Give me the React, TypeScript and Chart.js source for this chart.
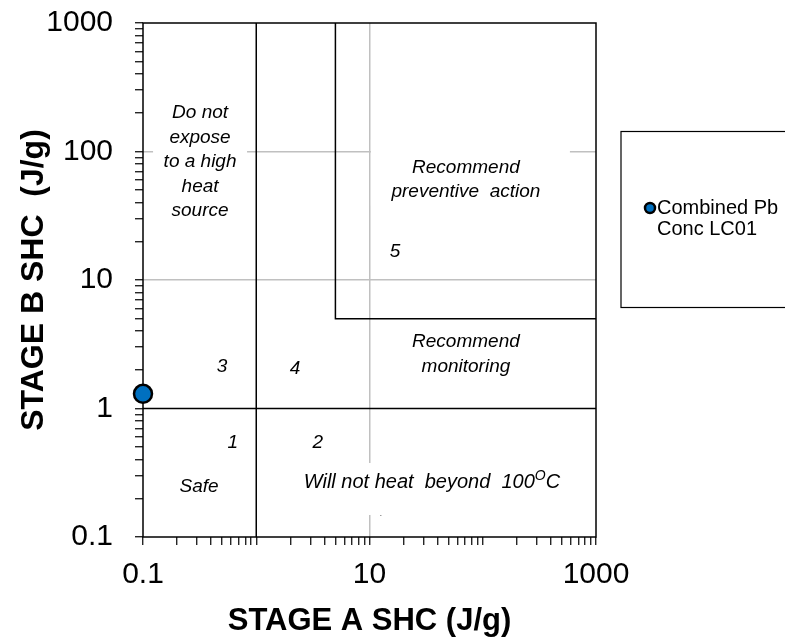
import { useEffect, useRef } from 'react';
import { Chart, registerables } from 'chart.js';

Chart.register(...registerables);

// ---- axis structure ----
const decades = [0.1, 1, 10, 100];
const minorMultipliers = [1, 2, 3, 4, 5, 6, 7, 8, 9];
const xLabelValues = [0.1, 10, 1000];
const yLabelValues = [0.1, 1, 10, 100, 1000];
const xGridValues = [10];
const yGridValues = [10, 100];
const xTitle = 'STAGE A SHC (J/g)';
const yTitle = 'STAGE B SHC  (J/g)';

// ---- data ----
const seriesLabelLines = ['Combined Pb', 'Conc LC01'];
const sampleX = [0.1];
const sampleY = [1.3];

// zone boundary lines
const boundaryAX = [1, 1];
const boundaryAY = [0.1, 1000];
const boundaryBX = [0.1, 1000];
const boundaryBY = [1, 1];
const boundaryCX = [5, 5, 1000];
const boundaryCY = [1000, 5, 5];

// zone annotations (data coordinates of first line centre)
const noteTexts = [
  ['Do not', 'expose', 'to a high', 'heat', 'source'],
  ['Recommend', 'preventive  action'],
  ['5'],
  ['Recommend', 'monitoring'],
  ['3'],
  ['4'],
  ['1'],
  ['2'],
  ['Safe'],
];
const noteX = [0.319, 71, 16.8, 71, 0.5, 2.2, 0.62, 3.5, 0.313];
const noteY = [199, 75, 16.5, 3.29, 2.1, 2.03, 0.54, 0.54, 0.245];

const heatNoteX = 35.6;
const heatNoteY = 0.268;
const heatNoteMain = 'Will not heat  beyond  100';
const heatNoteSup = 'O';
const heatNoteEnd = 'C';

const tinyDotX = 12.6;
const tinyDotY = 0.152;

const FONT = '"Liberation Sans", Arial, sans-serif';

const tickValues = [...decades.flatMap((d) => minorMultipliers.map((m) => +(d * m).toPrecision(6))), 1000];
const inList = (v: number, list: number[]) => list.some((l) => Math.abs(Math.log10(v) - Math.log10(l)) < 1e-6);

// white backing boxes for some annotations (pixel offsets from the anchor)
const boxes = [
  { note: 0, dx: -47, dy: -13, w: 94, h: 122 },
  { note: 1, dx: -95, dy: -28, w: 199, h: 66 },
];

const zonePlugin = {
  id: 'zones',
  beforeDatasetsDraw(chart: any) {
    const { ctx, chartArea, scales } = chart;
    const xs = scales.x;
    const ys = scales.y;
    ctx.save();
    ctx.fillStyle = '#ffffff';
    boxes.forEach((b) => {
      const px = xs.getPixelForValue(noteX[b.note]);
      const py = ys.getPixelForValue(noteY[b.note]);
      ctx.fillRect(px + b.dx, py + b.dy, b.w, b.h);
    });
    const hx = xs.getPixelForValue(heatNoteX);
    const hy = ys.getPixelForValue(heatNoteY);
    ctx.fillRect(hx - 133, hy - 19, 266, 52);

    // frame
    ctx.strokeStyle = '#000';
    ctx.lineWidth = 1.5;
    ctx.strokeRect(chartArea.left, chartArea.top, chartArea.right - chartArea.left, chartArea.bottom - chartArea.top);

    // annotations
    ctx.fillStyle = '#000';
    ctx.font = `italic 19px ${FONT}`;
    ctx.textAlign = 'center';
    ctx.textBaseline = 'middle';
    noteTexts.forEach((lines, i) => {
      const px = xs.getPixelForValue(noteX[i]);
      const py = ys.getPixelForValue(noteY[i]);
      lines.forEach((ln, j) => ctx.fillText(ln, px, py + j * 24.5));
    });

    // heat note with superscript
    ctx.textAlign = 'left';
    ctx.font = `italic 20px ${FONT}`;
    const w1 = ctx.measureText(heatNoteMain).width;
    const w3 = ctx.measureText(heatNoteEnd).width;
    ctx.font = `italic 14px ${FONT}`;
    const w2 = ctx.measureText(heatNoteSup).width;
    let sx = hx - (w1 + w2 + w3) / 2;
    ctx.font = `italic 20px ${FONT}`;
    ctx.fillText(heatNoteMain, sx, hy);
    sx += w1;
    ctx.font = `italic 14px ${FONT}`;
    ctx.fillText(heatNoteSup, sx, hy - 6);
    sx += w2;
    ctx.font = `italic 20px ${FONT}`;
    ctx.fillText(heatNoteEnd, sx, hy);

    ctx.font = `8px ${FONT}`;
    ctx.textAlign = 'center';
    ctx.fillText('.', xs.getPixelForValue(tinyDotX), ys.getPixelForValue(tinyDotY));
    ctx.restore();
  },
  afterDraw(chart: any) {
    const { ctx } = chart;
    ctx.save();
    ctx.strokeStyle = '#000';
    ctx.lineWidth = 1.2;
    ctx.strokeRect(621, 131.5, 180, 176);
    ctx.beginPath();
    ctx.arc(650, 208, 5, 0, Math.PI * 2);
    ctx.fillStyle = '#0070C0';
    ctx.fill();
    ctx.lineWidth = 2.5;
    ctx.stroke();
    ctx.fillStyle = '#000';
    ctx.font = `20px ${FONT}`;
    ctx.textAlign = 'left';
    ctx.textBaseline = 'middle';
    seriesLabelLines.forEach((ln, i) => ctx.fillText(ln, 657, 208 + i * 21));
    ctx.restore();
  },
};

const toPts = (xs: number[], ys: number[]) => xs.map((x, i) => ({ x, y: ys[i] }));

export default function App() {
  const ref = useRef<HTMLCanvasElement>(null);
  useEffect(() => {
    if (!ref.current) return;
    const lineDs = (data: any) => ({
      type: 'line' as const,
      data,
      showLine: true,
      borderColor: '#000',
      borderWidth: 1.5,
      pointRadius: 0,
      fill: false,
      tension: 0,
    });
    const chart = new Chart(ref.current, {
      type: 'scatter',
      data: {
        datasets: [
          lineDs(toPts(boundaryAX, boundaryAY)),
          lineDs(toPts(boundaryBX, boundaryBY)),
          lineDs(toPts(boundaryCX, boundaryCY)),
          {
            type: 'scatter',
            label: seriesLabelLines.join(' '),
            data: toPts(sampleX, sampleY),
            pointRadius: 9,
            pointBackgroundColor: '#0070C0',
            pointBorderColor: '#000',
            pointBorderWidth: 2.5,
            clip: false,
          } as any,
        ],
      },
      options: {
        animation: false,
        responsive: false,
        devicePixelRatio: 1,
        layout: { padding: { top: 23, right: 189, left: 0, bottom: 0 } },
        plugins: { legend: { display: false }, tooltip: { enabled: false } },
        scales: {
          x: {
            type: 'logarithmic',
            min: 0.1,
            max: 1000,
            afterBuildTicks: (s: any) => {
              s.ticks = tickValues.map((v) => ({ value: v, major: inList(v, xLabelValues) }));
            },
            afterFit: (s: any) => {
              s.height = 104;
              s.paddingLeft = 0;
              s.paddingRight = 0;
            },
            border: { display: false },
            grid: {
              color: (c: any) => (c.tick && inList(c.tick.value, xGridValues) ? '#c0c0c0' : 'rgba(0,0,0,0)'),
              lineWidth: 1.5,
              drawTicks: true,
              tickLength: 8,
              tickColor: '#000',
              tickWidth: 1.2,
            },
            ticks: {
              autoSkip: false,
              maxRotation: 0,
              padding: 12,
              color: '#000',
              font: { family: FONT, size: 30 },
              callback: (v: any) => (inList(Number(v), xLabelValues) ? String(Number(v)) : ''),
            },
            title: {
              display: true,
              text: xTitle,
              color: '#000',
              font: { family: FONT, size: 31, weight: 'bold' },
              padding: { top: 0, bottom: 1 },
            },
          },
          y: {
            type: 'logarithmic',
            min: 0.1,
            max: 1000,
            afterBuildTicks: (s: any) => {
              s.ticks = tickValues.map((v) => ({ value: v, major: inList(v, yLabelValues) }));
            },
            afterFit: (s: any) => {
              s.width = 143;
              s.paddingTop = 0;
              s.paddingBottom = 0;
            },
            border: { display: false },
            grid: {
              color: (c: any) => (c.tick && inList(c.tick.value, yGridValues) ? '#c0c0c0' : 'rgba(0,0,0,0)'),
              lineWidth: 1.5,
              drawTicks: true,
              tickLength: 8,
              tickColor: '#000',
              tickWidth: 1.2,
            },
            ticks: {
              autoSkip: false,
              padding: 22,
              color: '#000',
              font: { family: FONT, size: 30 },
              callback: (v: any) => (inList(Number(v), yLabelValues) ? String(Number(v)) : ''),
            },
            title: {
              display: true,
              text: yTitle,
              color: '#000',
              font: { family: FONT, size: 32, weight: 'bold' },
              padding: { top: 15, bottom: 0 },
            },
          },
        },
      },
      plugins: [zonePlugin],
    } as any);
    return () => chart.destroy();
  }, []);
  return (
    <div style={{ position: 'absolute', left: 0, top: 0, width: 785, height: 641, background: '#fff' }}>
      <canvas ref={ref} width={785} height={641} style={{ display: 'block' }} />
    </div>
  );
}
